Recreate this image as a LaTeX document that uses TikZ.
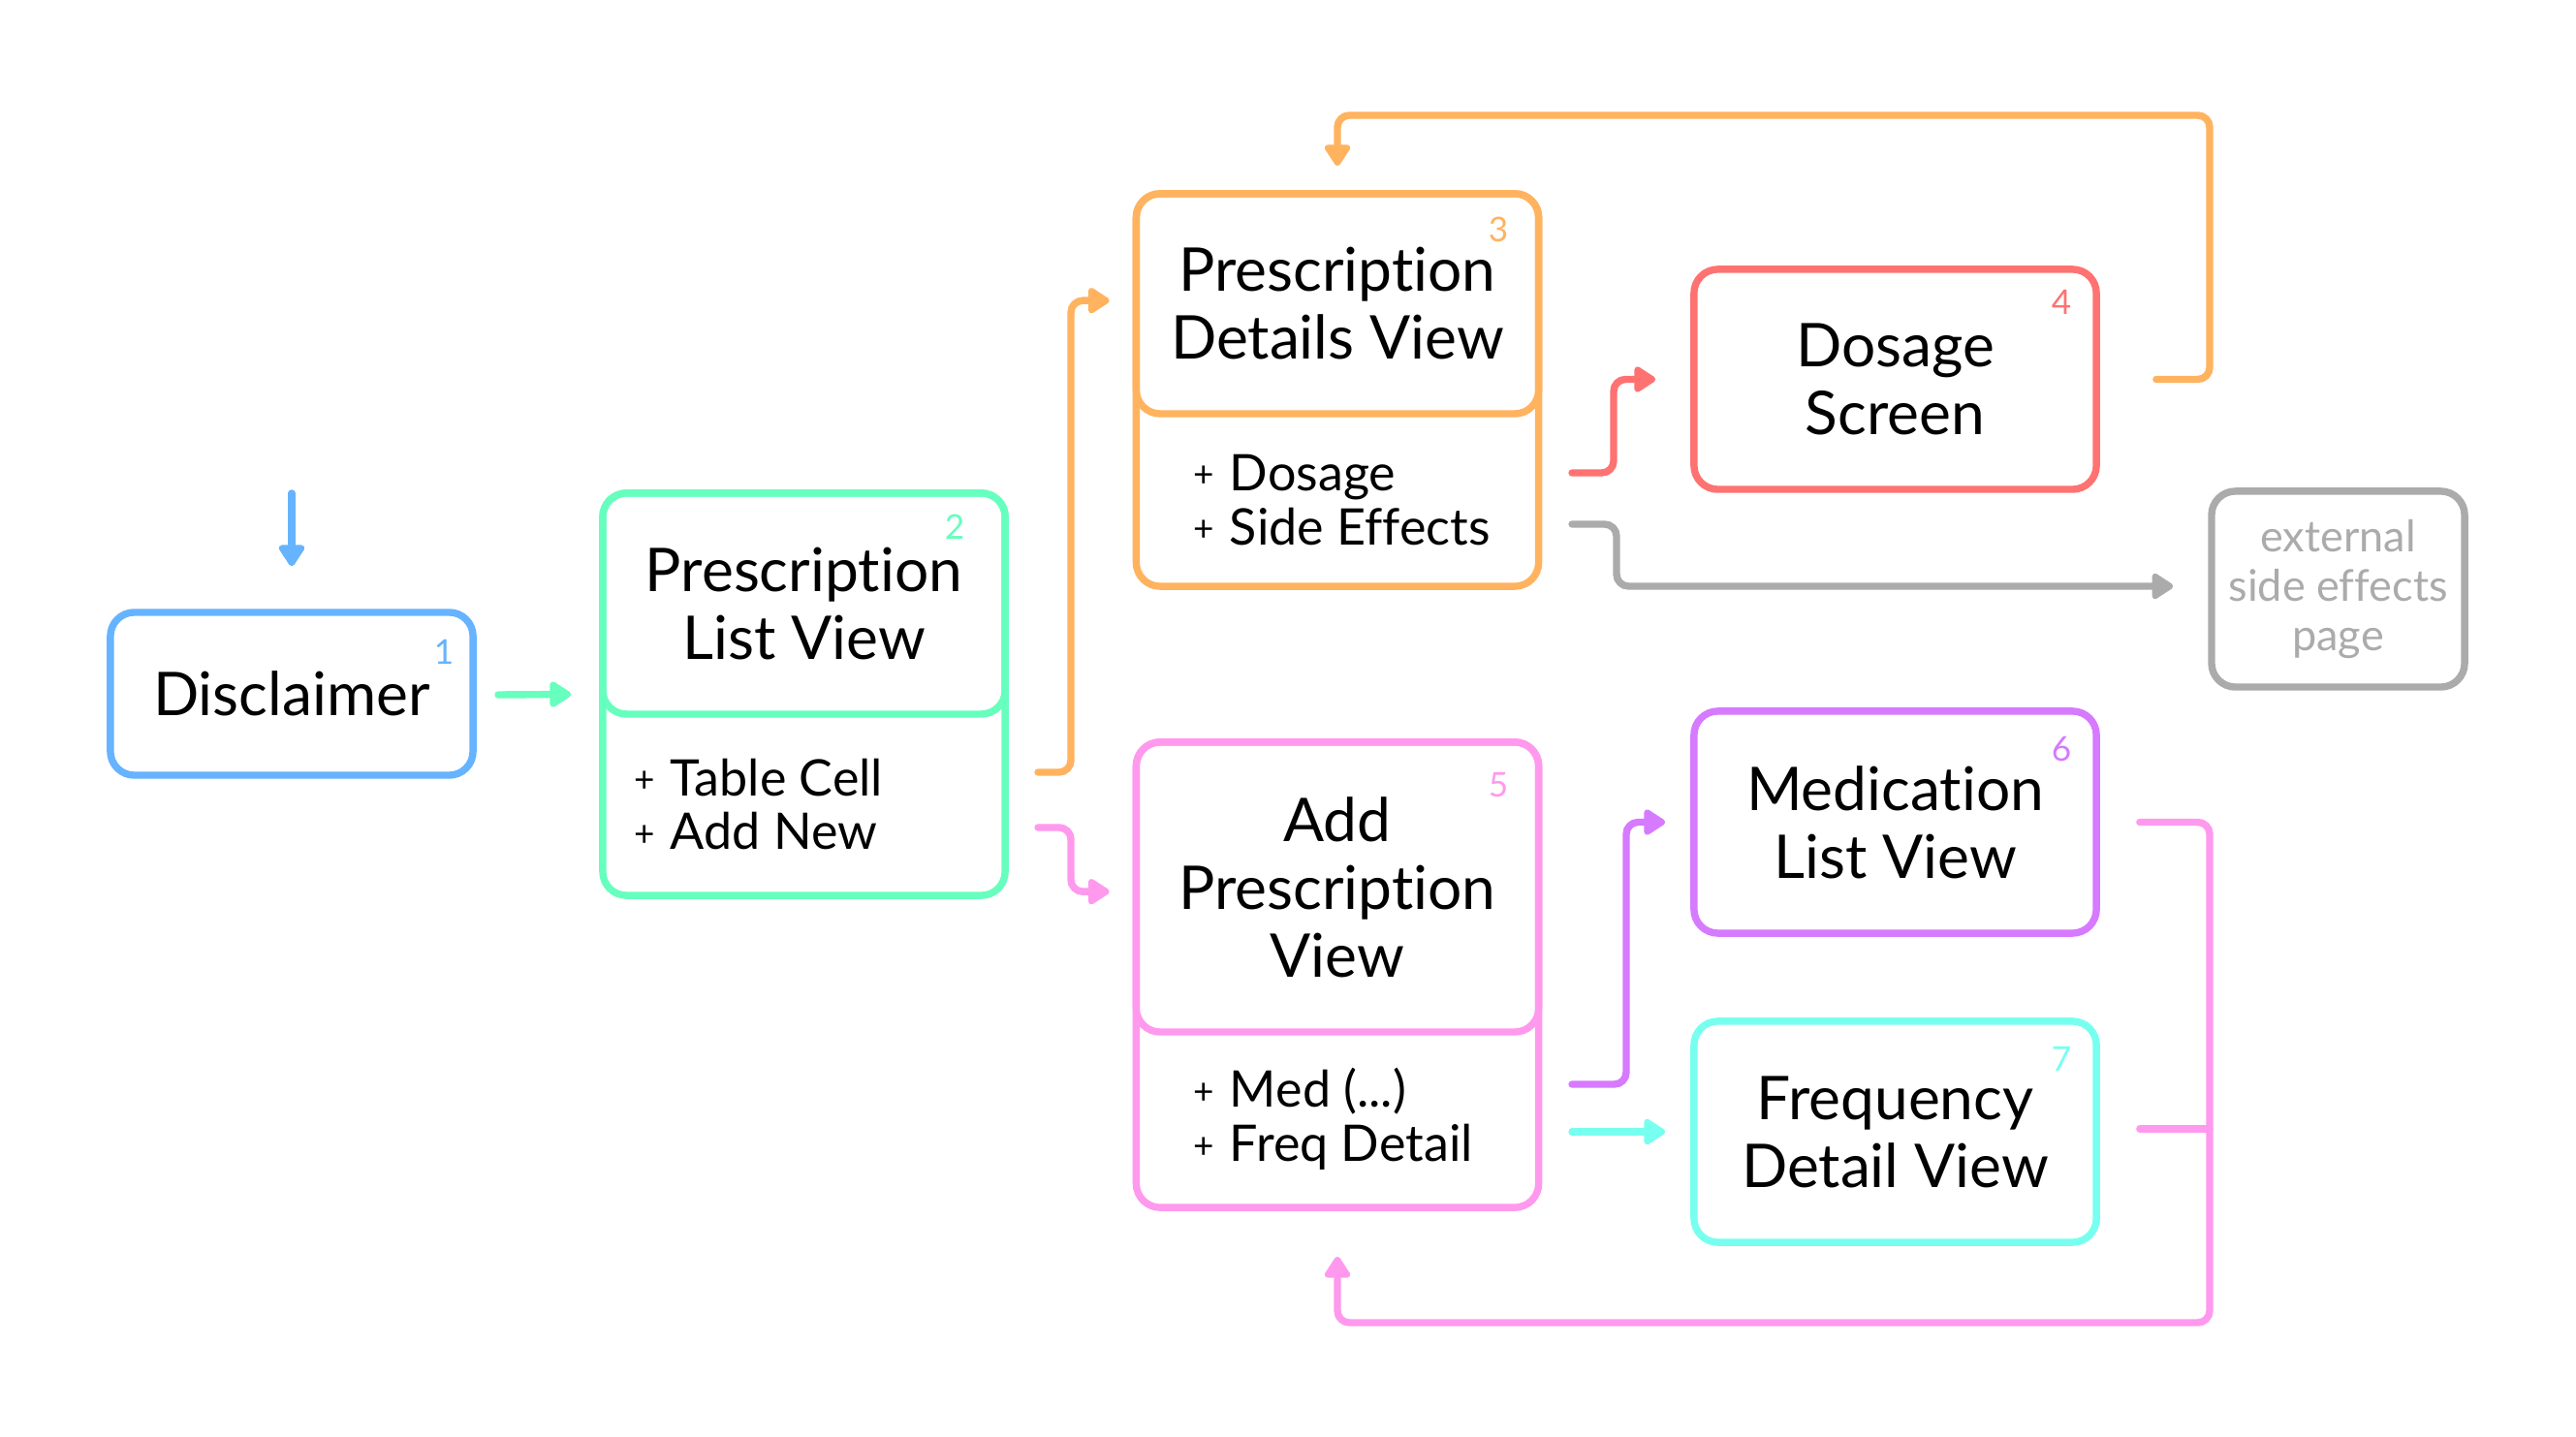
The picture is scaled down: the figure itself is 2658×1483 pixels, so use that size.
\documentclass[tikz,border=0pt]{standalone}
\usepackage{fontspec}
\setmainfont{Lato}[Ligatures={NoCommon}]
\usetikzlibrary{arrows.meta,calc}

\definecolor{cblue}{HTML}{66B3FF}
\definecolor{cgreen}{HTML}{66FFBD}
\definecolor{corange}{HTML}{FFB35F}
\definecolor{cred}{HTML}{FF7272}
\definecolor{cgray}{HTML}{ABABAB}
\definecolor{cpink}{HTML}{FF99EE}
\definecolor{cpurple}{HTML}{D67AFF}
\definecolor{ccyan}{HTML}{77FFF0}

\newcommand\titlefont{\fontsize{17.7}{19.9}\selectfont}
\newcommand\itemfont{\fontsize{14.8}{15.9}\selectfont}
\newcommand\extfont{\fontsize{12.8}{14.5}\selectfont}
\newcommand\tagfont{\fontsize{10}{10}\selectfont}
\newcommand\plusmark{\raisebox{1pt}{\fontsize{10.5}{10.5}\selectfont+}\hspace{4.5pt}}

\begin{document}
\begin{tikzpicture}[x=0.01cm,y=-0.01cm,
  box/.style={draw, line width=2.1pt, rounded corners=7pt, inner sep=0pt,
    minimum width=4.15cm, align=center, font=\titlefont, text=black},
  items/.style={inner sep=0pt, align=left, font=\itemfont, text=black},
  tag/.style={inner sep=0pt, font=\tagfont},
  link/.style={line width=2.1pt, rounded corners=3.5pt, line cap=round,
    -{Triangle[length=7pt,width=8.5pt,round]}},
  plain/.style={line width=2.1pt, line cap=round}]

\fill[white] (0,0) rectangle (2658,1483);
\useasboundingbox (0,0) rectangle (2658,1483);

% Screens
\node[box, draw=cblue, minimum width=3.74cm, minimum height=1.68cm] (disc) at (301,716) {Disclaimer};
\node[tag, text=cblue] (disc-n) at (458,673) {1};

\node[box, draw=cgreen, minimum height=4.15cm] (plv) at (829.5,716.5) {};
\node[box, draw=cgreen, minimum height=2.28cm, anchor=north] (plv-h) at (plv.north) {Prescription\\List View};
\node[items, anchor=west] (plv-i) at (654,830) {\plusmark Table Cell\\\plusmark Add New};
\node[tag, text=cgreen] (plv-n) at (985,544) {2};

\node[box, draw=corange, minimum height=4.05cm] (pdv) at (1380,402.5) {};
\node[box, draw=corange, minimum height=2.27cm, anchor=north] (pdv-h) at (pdv.north) {Prescription\\Details View};
\node[items, anchor=west] (pdv-i) at (1231,516) {\plusmark Dosage\\\plusmark Side Effects};
\node[tag, text=corange] (pdv-n) at (1546,237) {3};

\node[box, draw=cred, minimum height=2.27cm] (dose) at (1955.5,391.5) {Dosage\\Screen};
\node[tag, text=cred] (dose-n) at (2127,312) {4};

\node[box, draw=cgray, minimum width=2.61cm, minimum height=2.02cm, text=cgray, font=\extfont] (ext) at (2412.5,608) {external\\side effects\\page};

\node[box, draw=cpink, minimum height=4.80cm] (apv) at (1380,1006) {};
\node[box, draw=cpink, minimum height=2.99cm, anchor=north] (apv-h) at (apv.north) {Add\\Prescription\\View};
\node[items, anchor=west] (apv-i) at (1231,1155) {\plusmark Med (...)\\\plusmark Freq Detail};
\node[tag, text=cpink] (apv-n) at (1546,810) {5};

\node[box, draw=cpurple, minimum height=2.29cm] (mlv) at (1955.5,848.5) {Medication\\List View};
\node[tag, text=cpurple] (mlv-n) at (2127,773) {6};

\node[box, draw=ccyan, minimum height=2.28cm] (fdv) at (1955.5,1168) {Frequency\\Detail View};
\node[tag, text=ccyan] (fdv-n) at (2127,1093) {7};

% Connector start points
\coordinate (s-in) at (301,509);
\coordinate (s-disc) at (514,717);
\coordinate (s-cell) at (1071,797);
\coordinate (s-new) at (1071,854);
\coordinate (s-dose) at (1622,488);
\coordinate (s-side) at (1622,541);
\coordinate (s-med) at (1622,1119);
\coordinate (s-freq) at (1622,1168);
\coordinate (s-dscr) at ($(dose.east)+(58,0)$);
\coordinate (s-mlv) at ($(mlv.east)+(41,0)$);
\coordinate (s-fdv) at ($(fdv.east)+(41,-3)$);

% Connectors
\draw[link, color=cblue] (s-in) -- ($(disc.north)+(0,-44)$);
\draw[link, color=cgreen] (s-disc) -- ($(plv.west)+(-29,0)$);
\draw[link, color=corange] (s-cell) -- ++(34,0) |- ($(pdv.north west)+(-24,114)$);
\draw[link, color=cpink] (s-new) -- ++(34,0) |- ($(apv.north west)+(-24,158)$);
\draw[link, color=cred] (s-dose) -- ++(43,0) |- ($(dose.west)+(-36,0)$);
\draw[link, color=cgray] (s-side) -- ++(46,0) |- ($(ext.west)+(-36,-3)$);
\draw[link, color=corange] (s-dscr) -| (2280,119) -| ($(pdv.north)+(0,-25)$);
\draw[link, color=cpurple] (s-med) -- ++(56,0) |- ($(mlv.west)+(-26,0)$);
\draw[link, color=ccyan] (s-freq) -- ($(fdv.west)+(-26,0)$);
\draw[link, color=cpink] (s-mlv) -| (2280,1365) -| ($(apv.south)+(0,47)$);
\draw[plain, color=cpink] (s-fdv) -- (2280,1165);

\end{tikzpicture}
\end{document}
